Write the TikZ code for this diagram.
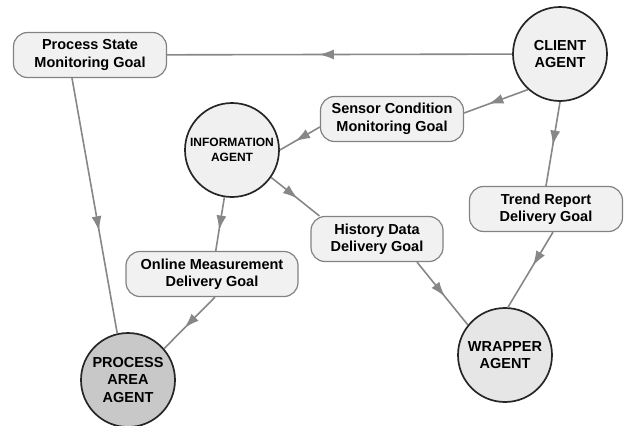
\documentclass[tikz,border=0pt]{standalone}
\usepackage{fontspec}
\setmainfont{Liberation Sans}
\definecolor{goal_fill}{RGB}{241, 241, 241}
\definecolor{goal_line}{RGB}{130, 130, 130}
\definecolor{link_gray}{RGB}{135, 135, 135}
\definecolor{agent_light}{RGB}{240, 240, 240}
\definecolor{agent_mid}{RGB}{230, 230, 230}
\definecolor{agent_dark}{RGB}{200, 200, 200}
\usetikzlibrary{arrows.meta, decorations.markings}

\begin{document}
\begin{tikzpicture}[x=1pt, y=-1pt,
            font=\fontsize{14.5}{17.5}\selectfont\bfseries,
            goal/.style={draw=goal_line, fill=goal_fill, line width=1.2pt,
                         rounded corners=14pt, align=center,
                         minimum height=45pt, inner sep=2pt},
            agent/.style={circle, draw=black!85, line width=1.7pt, align=center,
                          minimum size=94pt, inner sep=0pt},
            flow/.style={draw=link_gray, line width=1.6pt, postaction=decorate,
                         decoration={markings, mark=at position #1 with
                           {\arrow[link_gray]{Latex[length=15pt, width=10pt]}}}},
            flow/.default=0.55]
  \useasboundingbox (0,0) rectangle (627,426);
  % agents
  \node[agent, fill=agent_light] (client) at (560,54) {CLIENT\\AGENT};
  \node[agent, fill=agent_light, font=\fontsize{12}{15}\selectfont\bfseries]
    (info) at (232,150) {INFORMATION\\AGENT};
  \node[agent, fill=agent_dark] (area) at (128,380) {PROCESS\\AREA\\AGENT};
  \node[agent, fill=agent_mid] (wrap) at (505,355) {WRAPPER\\AGENT};
  % goals
  \node[goal, minimum width=153pt] (psm) at (90,55) {Process State\\Monitoring Goal};
  \node[goal, minimum width=143pt] (scm) at (392,119) {Sensor Condition\\Monitoring Goal};
  \node[goal, minimum width=172pt] (omd) at (212,274) {Online Measurement\\Delivery Goal};
  \node[goal, minimum width=132pt] (hdd) at (377,239) {History Data\\Delivery Goal};
  \node[goal, minimum width=153pt] (trd) at (546,209) {Trend Report\\Delivery Goal};
  % links
  \draw[flow=0.56] (client) -- (psm);
  \draw[flow=0.62] (client.228) -- ([yshift=6pt]scm.east);
  \draw[flow=0.62] ([yshift=-8pt]scm.west) -- (info.east);
  \draw[flow=0.6] ([xshift=-18pt]psm.south) -- (area.103);
  \draw[flow=0.62] (info) -- (omd);
  \draw[flow=0.6] ([xshift=3pt]omd.south) -- (area.41);
  \draw[flow=0.55] (info.-35) -- ([xshift=9pt]hdd.north west);
  \draw[flow=0.55] ([xshift=40pt]hdd.south) -- (wrap.141);
  \draw[flow=0.52] (client.south) -- (trd.north);
  \draw[flow=0.45] ([xshift=7pt]trd.south) -- ([xshift=3pt]wrap.north);
\end{tikzpicture}
\end{document}
